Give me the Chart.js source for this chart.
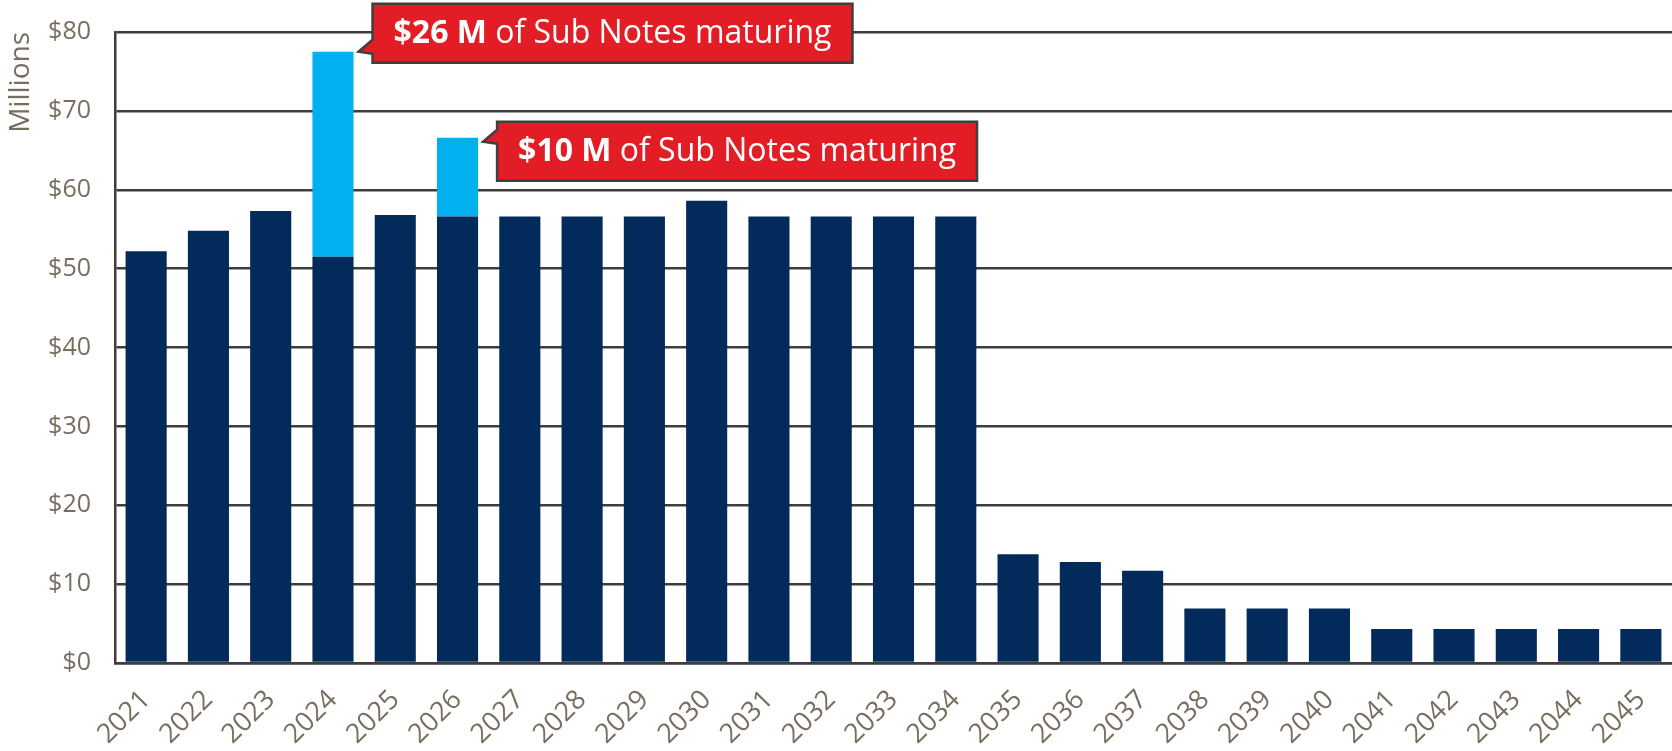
<!DOCTYPE html>
<html>
<head>
<meta charset="utf-8">
<script src="https://cdn.jsdelivr.net/npm/chart.js@4.4.0/dist/chart.umd.min.js"></script>
<style>
  html, body { margin: 0; padding: 0; background: #ffffff; }
  #wrap { width: 1672px; height: 751px; position: relative; }
</style>
</head>
<body>
<div id="wrap"><canvas id="chart"></canvas></div>
<script>
// values ($ millions)
const years = ['2021', '2022', '2023', '2024', '2025', '2026', '2027', '2028', '2029', '2030',
  '2031', '2032', '2033', '2034', '2035', '2036', '2037', '2038', '2039', '2040',
  '2041', '2042', '2043', '2044', '2045'];
const baseDebt = [52.2, 54.8, 57.3, 51.5, 56.8, 56.6, 56.6, 56.6, 56.6, 58.6,
  56.6, 56.6, 56.6, 56.6, 13.8, 12.8, 11.7, 6.9, 6.9, 6.9,
  4.3, 4.3, 4.3, 4.3, 4.3];
const subNotes = [0, 0, 0, 26, 0, 10, 0, 0, 0, 0,
  0, 0, 0, 0, 0, 0, 0, 0, 0, 0,
  0, 0, 0, 0, 0];
const calloutIndex = [3, 5];
const calloutAmount = ['$26 M', '$10 M'];
const calloutText = ' of Sub Notes maturing';

const labelColor = '#786e5e';
const lineColor = '#3d3d3d';
const fontFamily = '"Open Sans", "DejaVu Sans", sans-serif';

// red speech-box callouts pointing at the top of the sub-notes bars
const calloutPlugin = {
  id: 'callouts',
  afterDatasetsDraw(chart) {
    const ctx = chart.ctx;
    const meta = chart.getDatasetMeta(1);
    const boxTop = [-48, -20];
    calloutIndex.forEach((idx, i) => {
      const bar = meta.data[idx];
      const tipX = bar.x + bar.width / 2 + 5;
      const tipY = bar.y + (i === 0 ? 0 : 4);
      const left = tipX + 14;
      const top = tipY + boxTop[i];
      const h = 59;

      ctx.save();
      const boldFont = 'bold 32px ' + fontFamily;
      const normFont = '32px ' + fontFamily;
      ctx.font = boldFont;
      const w1 = ctx.measureText(calloutAmount[i]).width;
      ctx.font = normFont;
      const w2 = ctx.measureText(calloutText).width;
      const padX = 21;
      const w = w1 + w2 + padX * 2;

      ctx.beginPath();
      ctx.moveTo(left, top);
      ctx.lineTo(left + w, top);
      ctx.lineTo(left + w, top + h);
      ctx.lineTo(left, top + h);
      ctx.lineTo(left, tipY + 2);
      ctx.lineTo(tipX, tipY);
      ctx.lineTo(left, tipY - 12);
      ctx.closePath();
      ctx.fillStyle = '#e31d25';
      ctx.fill();
      ctx.lineWidth = 2.5;
      ctx.strokeStyle = '#3f3f3f';
      ctx.stroke();

      ctx.fillStyle = '#ffffff';
      ctx.textBaseline = 'middle';
      ctx.textAlign = 'left';
      ctx.font = boldFont;
      ctx.fillText(calloutAmount[i], left + padX, top + h / 2 + 1);
      ctx.font = normFont;
      ctx.fillText(calloutText, left + padX + w1, top + h / 2 + 1);
      ctx.restore();
    });
  }
};

new Chart(document.getElementById('chart'), {
  type: 'bar',
  data: {
    labels: years,
    datasets: [
      {
        label: 'Debt service',
        data: baseDebt,
        backgroundColor: '#022b5b',
        barPercentage: 0.66,
        categoryPercentage: 1.0
      },
      {
        label: 'Sub Notes',
        data: subNotes,
        backgroundColor: '#00b0ef',
        barPercentage: 0.66,
        categoryPercentage: 1.0
      }
    ]
  },
  options: {
    responsive: true,
    maintainAspectRatio: false,
    animation: false,
    layout: { padding: { top: 32, right: 0, left: 0, bottom: 0 } },
    plugins: {
      legend: { display: false },
      tooltip: { enabled: false }
    },
    scales: {
      x: {
        stacked: true,
        afterFit(scale) {
          scale.height = 88;
          scale.paddingLeft = 0;
          scale.paddingRight = 0;
        },
        grid: { display: false, drawTicks: false },
        border: { color: lineColor, width: 2.5 },
        ticks: {
          color: labelColor,
          font: { family: fontFamily, size: 27 },
          maxRotation: 45,
          minRotation: 45,
          padding: 21,
          autoSkip: false
        }
      },
      y: {
        stacked: true,
        min: 0,
        max: 80,
        afterFit(scale) {
          scale.width = 115;
          scale.paddingTop = 0;
          scale.paddingBottom = 0;
        },
        grid: { color: lineColor, lineWidth: 2.5, drawTicks: false },
        border: { color: lineColor, width: 2.5 },
        ticks: {
          stepSize: 10,
          color: labelColor,
          padding: 24,
          font: { family: fontFamily, size: 25 },
          callback: (v) => '$' + v
        },
        title: {
          display: true,
          text: 'Millions',
          align: 'end',
          color: labelColor,
          font: { family: fontFamily, size: 28 },
          padding: { top: 4, bottom: 0 }
        }
      }
    }
  },
  plugins: [calloutPlugin]
});
</script>
</body>
</html>
